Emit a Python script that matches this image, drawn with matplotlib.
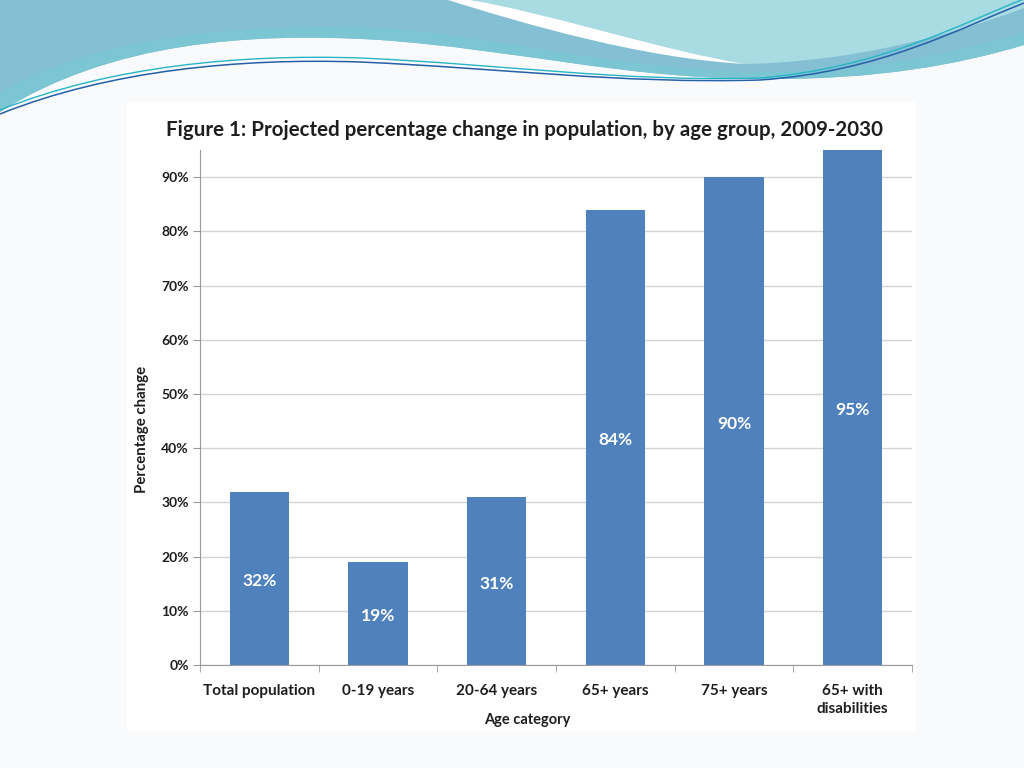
import numpy as np
import matplotlib
matplotlib.use("Agg")
import matplotlib.pyplot as plt
from matplotlib.path import Path
from matplotlib.patches import PathPatch, Rectangle
from matplotlib.ticker import FixedLocator

# chart data
categories = ["Total population", "0-19 years", "20-64 years",
              "65+ years", "75+ years", "65+ with\ndisabilities"]
pct_change = [32, 19, 31, 84, 90, 95]
y_ticks = [0, 10, 20, 30, 40, 50, 60, 70, 80, 90]
y_tick_labels = [f"{v}%" for v in y_ticks]

TITLE = "Figure 1: Projected percentage change in population, by age group, 2009-2030"
BAR_COLOR = "#4f81bd"
TEXT_COLOR = "#1e1e1e"

plt.rcParams["font.family"] = ["Lato", "DejaVu Sans"]
plt.rcParams["font.weight"] = "bold"


def bez(start, segs, close=True):
    # segs: list of 1 point (line) or 3 points (cubic)
    verts = [start]
    codes = [Path.MOVETO]
    for s in segs:
        if len(s) == 1:
            verts += s
            codes += [Path.LINETO]
        else:
            verts += s
            codes += [Path.CURVE4] * 3
    if close:
        verts.append(start)
        codes.append(Path.CLOSEPOLY)
    return Path(verts, codes)


def draw_slide(bg):
    bg.set_xlim(0, 1024)
    bg.set_ylim(768, 0)
    bg.axis("off")
    bg.add_patch(Rectangle((0, 0), 1024, 768, color="#f9fafb", zorder=0))

    # big teal wave
    teal = bez((0, 0), [[(1024, 0)], [(1024, 45)],
                        [(960, 64), (880, 80), (760, 79)],
                        [(620, 78), (520, 50), (380, 40)],
                        [(250, 32), (110, 42), (0, 112)]])
    bg.add_patch(PathPatch(teal, fc="#84bfd3", ec="none", zorder=1))
    # more cyan band near the bottom of the teal wave
    band = bez((0, 112), [[(110, 42), (250, 32), (380, 40)],
                          [(520, 50), (620, 78), (760, 79)],
                          [(880, 80), (960, 64), (1024, 45)],
                          [(1024, 32)],
                          [(940, 57), (860, 72), (760, 72)],
                          [(600, 68), (500, 36), (380, 28)],
                          [(230, 22), (90, 40), (0, 92)]])
    bg.add_patch(PathPatch(band, fc="#7cc5d3", ec="none", zorder=1))

    # light cyan wave, top right
    cyan = bez((470, 0), [[(1024, 0)], [(1024, 8)],
                          [(950, 36), (850, 62), (745, 64)],
                          [(660, 50), (545, 12), (470, 0)]])
    bg.add_patch(PathPatch(cyan, fc="#a8dbe2", ec="none", zorder=2))

    # white swoosh
    swoosh = bez((448, 0), [[(470, 0)],
                            [(545, 12), (660, 50), (745, 64)],
                            [(640, 58), (525, 24), (448, 0)]])
    bg.add_patch(PathPatch(swoosh, fc="white", ec="none", zorder=3))

    # thin lines
    line1 = bez((0, 114), [[(110, 70), (240, 58), (360, 62)],
                           [(500, 68), (620, 84), (760, 80)],
                           [(880, 72), (960, 28), (1024, 3)]], close=False)
    line2 = bez((0, 110), [[(110, 66), (240, 54), (360, 58)],
                           [(500, 64), (620, 82), (760, 78)],
                           [(880, 68), (960, 24), (1024, -1)]], close=False)
    bg.add_patch(PathPatch(line1, fc="none", ec="#2560a8", lw=1.1, zorder=4))
    bg.add_patch(PathPatch(line2, fc="none", ec="#27b5c6", lw=1.0, zorder=4))

    # white picture of the chart
    bg.add_patch(Rectangle((127, 102), 788, 628, color="white", zorder=5))


fig = plt.figure(figsize=(10.24, 7.68), dpi=100)
bg = fig.add_axes([0, 0, 1, 1], zorder=0)
draw_slide(bg)

ax = fig.add_axes([200 / 1024, 1 - 665 / 768, 712 / 1024, 515 / 768], zorder=1)
ax.set_facecolor("none")
x = np.arange(len(categories))
bars = ax.bar(x, pct_change, width=0.5, color=BAR_COLOR, zorder=3)
for b, v in zip(bars, pct_change):
    ax.annotate(f"{v}%", (b.get_x() + b.get_width() / 2, v / 2),
                xytext=(0, -2), textcoords="offset points", ha="center",
                va="center", color="white", fontsize=12.5, fontweight="bold",
                zorder=4)

ax.set_xlim(-0.5, len(categories) - 0.5)
ax.set_ylim(0, 95)
ax.set_yticks(y_ticks)
ax.set_yticklabels(y_tick_labels)
ax.set_xticks(x)
ax.set_xticklabels(categories, fontsize=11, color=TEXT_COLOR, linespacing=1.35)
ax.xaxis.set_minor_locator(FixedLocator(np.arange(-0.5, len(categories), 1)))
ax.tick_params(axis="x", which="major", length=0, pad=14)
ax.tick_params(axis="x", which="minor", length=5, color="#9a9a9a", direction="out")
ax.tick_params(axis="y", length=5, color="#9a9a9a", labelsize=10,
               labelcolor=TEXT_COLOR, pad=3)
ax.grid(axis="y", color="#d4d4d4", lw=1, zorder=0)
for side in ["top", "right"]:
    ax.spines[side].set_visible(False)
for side in ["left", "bottom"]:
    ax.spines[side].set_color("#9a9a9a")
ax.spines["bottom"].set_zorder(5)

fig.text(525 / 1024, 1 - 130 / 768, TITLE, ha="center", va="center",
         fontsize=14.8, fontweight="bold", color=TEXT_COLOR)
fig.text(142 / 1024, 1 - 429 / 768, "Percentage change", ha="center", va="center",
         rotation=90, fontsize=10.8, fontweight="bold", color=TEXT_COLOR)
fig.text(527 / 1024, 1 - 720 / 768, "Age category", ha="center", va="center",
         fontsize=10.5, fontweight="bold", color=TEXT_COLOR)

fig.savefig("out.png", dpi=100)
